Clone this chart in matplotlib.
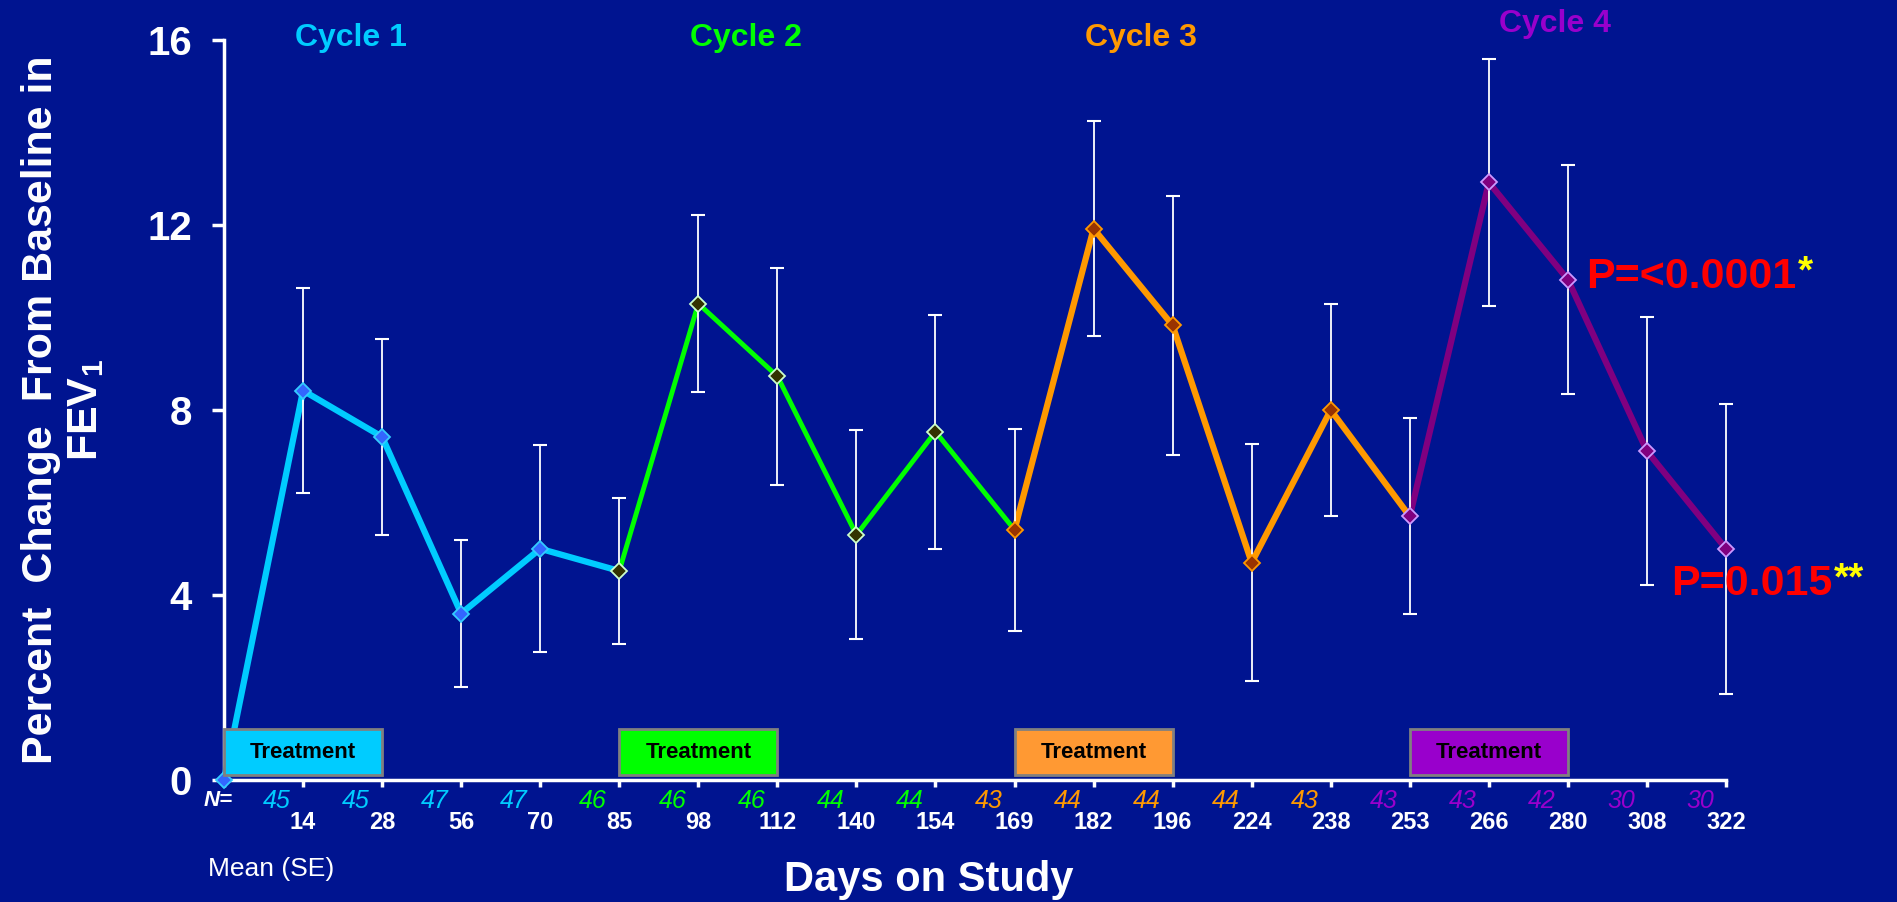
import matplotlib
matplotlib.use("Agg")
import matplotlib.pyplot as plt
from matplotlib.patches import Rectangle

plt.rcParams['font.family'] = ['Liberation Sans', 'DejaVu Sans']
plt.rcParams['mathtext.fontset'] = 'custom'
plt.rcParams['mathtext.rm'] = 'Liberation Sans:bold'
plt.rcParams['mathtext.bf'] = 'Liberation Sans:bold'

# Data
days = ['0', '14', '28', '56', '70', '85', '98', '112', '140', '154', '169',
        '182', '196', '224', '238', '253', '266', '280', '308', '322']
mean = [0.0, 8.42, 7.42, 3.6, 5.0, 4.52, 10.3, 8.73, 5.3, 7.53, 5.41,
        11.92, 9.83, 4.7, 8.0, 5.7, 12.92, 10.82, 7.11, 5.0]
se = [0.0, 2.22, 2.12, 1.58, 2.24, 1.58, 1.91, 2.35, 2.26, 2.53, 2.19,
      2.33, 2.8, 2.57, 2.29, 2.12, 2.68, 2.47, 2.9, 3.14]
n_vals = [45, 45, 47, 47, 46, 46, 46, 44, 44, 43, 44, 44, 44, 43, 43, 43, 42, 30, 30]
n_cycle = [0, 0, 0, 0, 1, 1, 1, 1, 1, 2, 2, 2, 2, 2, 3, 3, 3, 3, 3]

cycle_names = ['Cycle 1', 'Cycle 2', 'Cycle 3', 'Cycle 4']
cycle_start = [0, 5, 10, 15]
cycle_end = [5, 10, 15, 19]
treat_start = [0, 5, 10, 15]
treat_len = 2

line_col = ['#00CCFF', '#00FF00', '#FF9900', '#800080']
mark_face = ['#3366FF', '#333300', '#993300', '#800080']
mark_edge = ['#33CCFF', '#CCFFCC', '#FF9900', '#CC99FF']
text_col = ['#00CCFF', '#00FF00', '#FF9900', '#9900CC']
box_col = ['#00CCFF', '#00FF00', '#FF9933', '#9900CC']
line_w = [4.5, 3.5, 4.5, 4.5]
cycle_lbl_xy = [(1.6, 16.05), (6.6, 16.05), (11.6, 16.05), (16.83, 16.35)]

bg = '#001490'
fig = plt.figure(figsize=(18.97, 9.02), dpi=100, facecolor=bg)
ax = fig.add_axes([224 / 1897, 1 - 780 / 902, 1502 / 1897, 740 / 902])
ax.set_facecolor(bg)

x = list(range(len(days)))

# lines per cycle
for c in range(4):
    s, e = cycle_start[c], cycle_end[c]
    ax.plot(x[s:e + 1], mean[s:e + 1], color=line_col[c], lw=line_w[c],
            zorder=3, clip_on=False, solid_capstyle='butt')

# error bars
ax.errorbar(x[1:], mean[1:], yerr=se[1:], fmt='none', ecolor='white',
            elinewidth=1.3, capsize=5, capthick=1.5, zorder=4, clip_on=False)

# markers
for i in x:
    c = 0 if i < 5 else (1 if i < 10 else (2 if i < 15 else 3))
    ax.plot(x[i], mean[i], marker='D', ms=8.5, mfc=mark_face[c], mec=mark_edge[c],
            mew=1.3, zorder=5, clip_on=False, ls='none')

# treatment boxes
for c in range(4):
    ax.add_patch(Rectangle((treat_start[c], 0.1), treat_len, 1.0, facecolor=box_col[c],
                           edgecolor='#808080', lw=2, zorder=6, clip_on=False))
    ax.text(treat_start[c] + treat_len / 2, 0.6, 'Treatment', ha='center', va='center',
            fontsize=16, fontweight='bold', color='black', zorder=7)

# cycle labels
for c in range(4):
    ax.text(cycle_lbl_xy[c][0], cycle_lbl_xy[c][1], cycle_names[c], ha='center',
            va='center', fontsize=23, fontweight='bold', color=text_col[c])

# N values
for i, n in enumerate(n_vals):
    ax.annotate(str(n), xy=(i + 0.67, 0), xytext=(0, -15), textcoords='offset points',
                ha='center', va='center', fontsize=18, fontstyle='italic',
                color=text_col[n_cycle[i]], annotation_clip=False)
ax.annotate('N=', xy=(-0.08, 0), xytext=(0, -15), textcoords='offset points',
            ha='center', va='center', fontsize=16, fontstyle='italic', fontweight='bold',
            color='white', annotation_clip=False)

# p-values
p1 = ax.text(17.23, 10.88, 'P=<0.0001', ha='left', va='center', fontsize=31,
             fontweight='bold', color='#FF0000', zorder=8)
ax.annotate('*', xy=(1, 1), xycoords=p1, xytext=(1, 2), textcoords='offset points',
            ha='left', va='top', fontsize=28, fontweight='bold', color='#FFFF00')
p2 = ax.text(18.3, 4.24, 'P=0.015', ha='left', va='center', fontsize=31,
             fontweight='bold', color='#FF0000', zorder=8)
ax.annotate('**', xy=(1, 1), xycoords=p2, xytext=(1, 2), textcoords='offset points',
            ha='left', va='top', fontsize=28, fontweight='bold', color='#FFFF00')

# axes styling
ax.set_xlim(0, 19)
ax.set_ylim(0, 16)
ax.set_xticks(x)
ax.set_xticklabels([''] + days[1:])
ax.set_yticks([0, 4, 8, 12, 16])
for sp in ['top', 'right']:
    ax.spines[sp].set_visible(False)
for sp in ['left', 'bottom']:
    ax.spines[sp].set_color('white')
    ax.spines[sp].set_linewidth(2.5)
ax.tick_params(axis='x', colors='white', direction='out', length=5, width=2.5, pad=17,
               labelsize=17)
ax.tick_params(axis='y', colors='white', direction='out', length=9, width=2.5, pad=14,
               labelsize=29)
for lab in ax.get_xticklabels() + ax.get_yticklabels():
    lab.set_fontweight('bold')

ax.set_ylabel('Percent  Change  From Baseline in\nFEV$_{1}$', fontsize=31,
              fontweight='bold', color='white', labelpad=30, linespacing=1.15)
ax.set_xlabel('Days on Study', fontsize=30, fontweight='bold', color='white')
ax.xaxis.set_label_coords(0.469, -0.135)
ax.xaxis.label.set_va('center')
ax.text(-0.2, -1.92, 'Mean (SE)', ha='left', va='center', fontsize=19, color='white')

fig.savefig('out.png', dpi=100, facecolor=bg)
